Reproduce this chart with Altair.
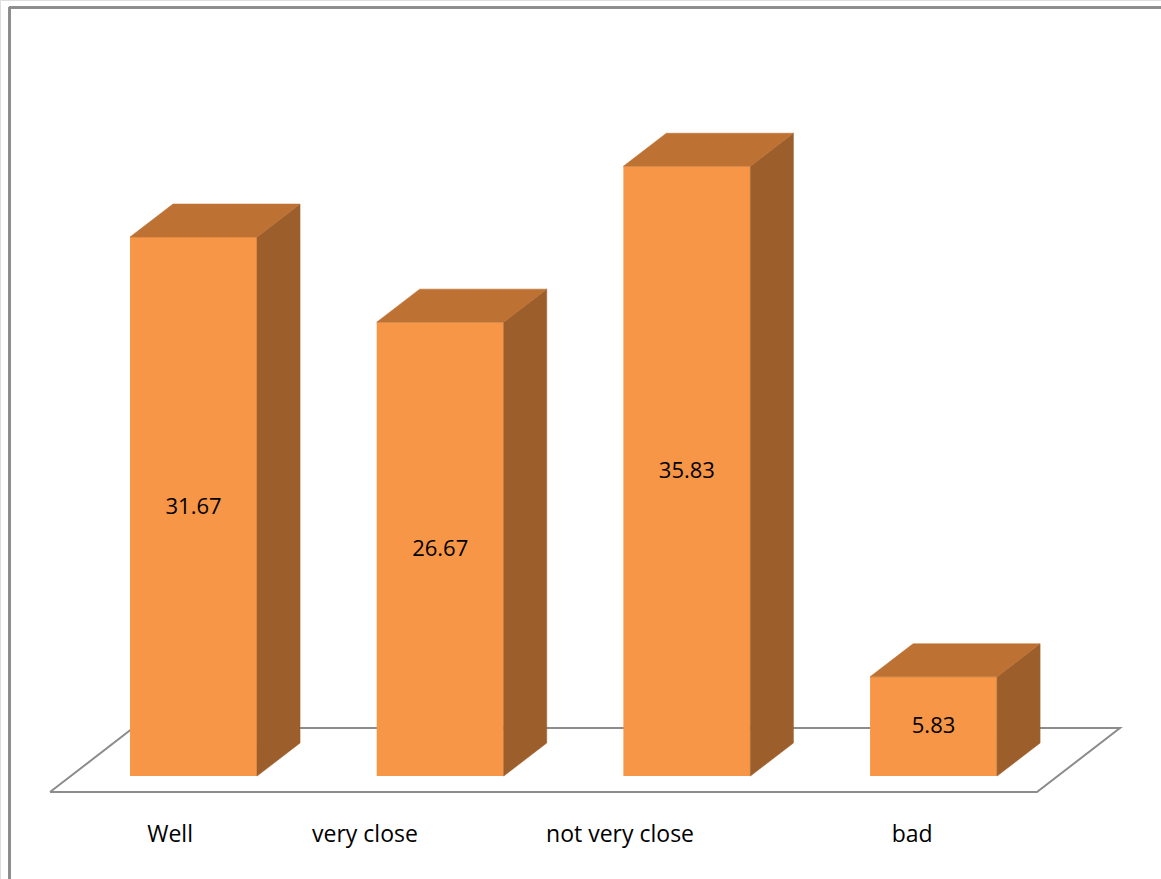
import altair as alt
import pandas as pd

# Survey results (percent)
categories = ["Well", "very close", "not very close", "bad"]
values = [31.67, 26.67, 35.83, 5.83]

# Geometry of the pseudo-3D bars, in data units
HALF_W = 0.2574      # half width of a bar's front face (category units)
DEPTH_X = 0.1743     # horizontal depth offset (category units)
DEPTH_Y = 1.94       # vertical depth offset (value units)

# Floor plane (category units / value units)
FLOOR_FRONT_Y = -0.94
FLOOR_BACK_Y = 2.82
FLOOR_FRONT_X0, FLOOR_FRONT_X1 = -0.5817, 3.4192
FLOOR_SHIFT_X = 0.3365

# Category label nudges along x (category units) and height
LABEL_NUDGE = [-0.095, -0.305, -0.271, -0.087]
LABEL_Y = -3.47

FRONT = "#F79646"
TOP = "#BD7234"
SIDE = "#9C5F2C"
GRID = "#8C8C8C"
FONT = "Open Sans"

x_scale = alt.Scale(domain=[-0.7845, 3.922], nice=False, zero=False, padding=0)
y_scale = alt.Scale(domain=[-6.05, 45.6], nice=False, zero=False, padding=0)

idx = list(range(len(categories)))

bars = pd.DataFrame({
    "cat": categories,
    "val": values,
    "x0": [i - HALF_W for i in idx],
    "x1": [i + HALF_W for i in idx],
    "xc": idx,
    "ymid": [v / 2 for v in values],
    "label": [f"{v:.2f}" for v in values],
})

# Side faces: vertical-edged parallelograms to the right of each bar
side_rows = []
for i, v in zip(idx, values):
    side_rows.append({"bar": i, "x": i + HALF_W, "y": 0.0, "y2": v})
    side_rows.append({"bar": i, "x": i + HALF_W + DEPTH_X, "y": DEPTH_Y, "y2": v + DEPTH_Y})
side = pd.DataFrame(side_rows)

# Top faces: horizontal-edged parallelograms above each bar
top_rows = []
for i, v in zip(idx, values):
    top_rows.append({"bar": i, "y": v, "x": i - HALF_W, "x2": i + HALF_W})
    top_rows.append({"bar": i, "y": v + DEPTH_Y, "x": i - HALF_W + DEPTH_X, "x2": i + HALF_W + DEPTH_X})
top = pd.DataFrame(top_rows)

floor = pd.DataFrame({
    "x": [FLOOR_FRONT_X0, FLOOR_FRONT_X1, FLOOR_FRONT_X1 + FLOOR_SHIFT_X,
          FLOOR_FRONT_X0 + FLOOR_SHIFT_X, FLOOR_FRONT_X0],
    "y": [FLOOR_FRONT_Y, FLOOR_FRONT_Y, FLOOR_BACK_Y, FLOOR_BACK_Y, FLOOR_FRONT_Y],
    "k": [0, 1, 2, 3, 4],
})

cat_labels = pd.DataFrame({
    "cat": categories,
    "x": [i + n for i, n in zip(idx, LABEL_NUDGE)],
    "y": [LABEL_Y] * len(categories),
})

X = lambda f: alt.X(f, type="quantitative", scale=x_scale, axis=None)
Y = lambda f: alt.Y(f, type="quantitative", scale=y_scale, axis=None)

floor_layer = alt.Chart(floor).mark_line(color=GRID, strokeWidth=2).encode(
    x=X("x"), y=Y("y"), order="k:Q"
)

front_layer = alt.Chart(bars).mark_rect(color=FRONT).encode(
    x=X("x0"), x2="x1", y=alt.Y("val:Q", scale=y_scale, axis=None), y2=alt.Y2(datum=0)
)

side_layer = alt.Chart(side).mark_area(
    color=SIDE, opacity=1, stroke=SIDE, strokeWidth=0.6
).encode(x=X("x"), y=Y("y"), y2="y2", detail="bar:N")

top_layer = alt.Chart(top).mark_area(
    color=TOP, opacity=1, orient="horizontal", stroke=TOP, strokeWidth=0.6
).encode(y=Y("y"), x=X("x"), x2="x2", detail="bar:N")

value_layer = alt.Chart(bars).mark_text(
    font=FONT, fontSize=22, color="black", baseline="middle", align="center"
).encode(x=X("xc"), y=Y("ymid"), text="label:N")

label_layer = alt.Chart(cat_labels).mark_text(
    font=FONT, fontSize=23, color="black", baseline="middle", align="center"
).encode(x=X("x"), y=Y("y"), text="cat:N")

frame_top = alt.Chart(floor).mark_rule(color=GRID, strokeWidth=2).encode(
    x=alt.value(9), x2=alt.value(1161), y=alt.value(7.5)
)
frame_left = alt.Chart(floor).mark_rule(color=GRID, strokeWidth=2).encode(
    x=alt.value(9.5), y=alt.value(7), y2=alt.value(879)
)

chart = alt.layer(
    frame_top, frame_left, floor_layer, front_layer, side_layer, top_layer,
    value_layer, label_layer,
).properties(
    width=1161, height=879, padding=0, autosize=alt.AutoSizeParams(type="none")
).configure_view(stroke=None).configure(background="white")

chart.save("out.html", embed_options={"renderer": "svg", "actions": False})
